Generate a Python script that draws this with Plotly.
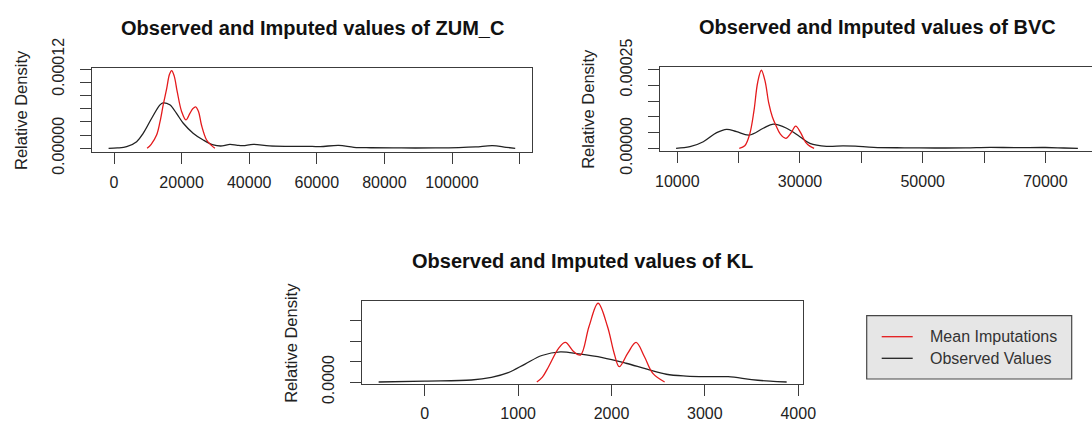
import plotly.graph_objects as go

W, H = 1092, 423
FONT = "Liberation Sans, Arial, Helvetica, sans-serif"
RED = "rgb(228,26,28)"
BLACK = "rgb(34,34,34)"
AXIS = "rgb(60,60,60)"

# ---- ZUM_C ----
zum_obs_x = [-1600, 1000, 3750, 6700, 8670, 11150, 13600, 14500, 16500, 18500, 20500,
             23400, 26400, 29400, 32000, 34300, 36500, 38200, 41200, 46000, 52000,
             57000, 61000, 66500, 71000, 76000, 85000, 95000, 102000, 107000, 112000,
             116000, 118700]
zum_obs_y = [0, 0.05e-5, 0.24e-5, 1.0e-5, 2.3e-5, 4.56e-5, 6.6e-5, 6.9e-5, 6.6e-5, 5.3e-5,
             3.8e-5, 2.3e-5, 1.26e-5, 0.5e-5, 0.35e-5, 0.6e-5, 0.45e-5, 0.4e-5, 0.6e-5,
             0.35e-5, 0.3e-5, 0.3e-5, 0.25e-5, 0.45e-5, 0.15e-5, 0.08e-5, 0.05e-5, 0.05e-5,
             0.1e-5, 0.2e-5, 0.4e-5, 0.15e-5, 0]
zum_imp_x = [9800, 11000, 12600, 13600, 14600, 15600, 16400, 17050, 17800, 18700, 20000,
             21270, 22450, 23300, 24150, 25000, 25900, 27400, 28900, 29850]
zum_imp_y = [0, 0.6e-5, 2.0e-5, 4.0e-5, 6.7e-5, 9.1e-5, 11.2e-5, 11.8e-5, 11.0e-5, 8.6e-5,
             5.6e-5, 4.3e-5, 5.3e-5, 6.0e-5, 6.3e-5, 5.6e-5, 3.5e-5, 1.26e-5, 0.4e-5, 0]

# ---- BVC ----
bvc_obs_x = [9800, 12070, 14240, 16420, 18050, 19670, 21730, 24010, 25640, 27820, 29980,
             31610, 34330, 37000, 39000, 42000, 47000, 52000, 57000, 61000, 65000, 70000,
             73000, 75300]
bvc_obs_y = [0, 0.5e-5, 2.1e-5, 5.0e-5, 6.06e-5, 5.3e-5, 4.24e-5, 6.4e-5, 7.7e-5, 6.4e-5,
             3.7e-5, 1.6e-5, 0.64e-5, 0.8e-5, 0.7e-5, 0.3e-5, 0.15e-5, 0.1e-5, 0.15e-5,
             0.3e-5, 0.2e-5, 0.25e-5, 0.1e-5, 0]
bvc_imp_x = [20100, 21000, 21800, 22500, 23100, 23700, 24300, 24900, 25500, 26100, 26800,
             27700, 28500, 29300, 30100, 30900, 31600, 32300]
bvc_imp_y = [0, 0.8e-5, 4.5e-5, 12.0e-5, 21.0e-5, 24.9e-5, 21.5e-5, 14.5e-5, 10.0e-5,
             7.2e-5, 4.5e-5, 3.2e-5, 4.8e-5, 7.1e-5, 5.0e-5, 2.0e-5, 0.7e-5, 0]

# ---- KL ----
kl_obs_x = [-494, 0, 500, 714, 894, 1074, 1254, 1452, 1651, 1903, 2155, 2371, 2587, 2800,
            3000, 3250, 3500, 3700, 3876]
kl_obs_y = [0, 0.24e-4, 0.49e-4, 1.15e-4, 2.3e-4, 4.4e-4, 6.5e-4, 7.4e-4, 6.9e-4, 6.0e-4,
            4.6e-4, 3.2e-4, 1.9e-4, 1.45e-4, 1.3e-4, 1.3e-4, 0.6e-4, 0.2e-4, 0]
kl_imp_x = [1200, 1260, 1326, 1435, 1506, 1597, 1668, 1759, 1856, 1957, 2029, 2083, 2173,
            2263, 2353, 2443, 2569]
kl_imp_y = [0, 1.2e-4, 3.75e-4, 8.3e-4, 9.7e-4, 7.4e-4, 6.6e-4, 13.6e-4, 19.3e-4, 13.6e-4,
            7.0e-4, 3.75e-4, 7.0e-4, 9.7e-4, 6.2e-4, 2.1e-4, 0]

# axis ticks
zum_xticks = [0, 20000, 40000, 60000, 80000, 100000, 120000]
zum_xtext = ["0", "20000", "40000", "60000", "80000", "100000", ""]
zum_yticks = [0, 2e-5, 4e-5, 6e-5, 8e-5, 10e-5, 12e-5]
zum_ytext = ["0.00000", "", "", "", "", "", "0.00012"]

bvc_xticks = [10000, 20000, 30000, 40000, 50000, 60000, 70000]
bvc_xtext = ["10000", "", "30000", "", "50000", "", "70000"]
bvc_yticks = [0, 5e-5, 10e-5, 15e-5, 20e-5, 25e-5]
bvc_ytext = ["0.00000", "", "", "", "", "0.00025"]

kl_xticks = [0, 1000, 2000, 3000, 4000]
kl_xtext = ["0", "1000", "2000", "3000", "4000"]
kl_yticks = [0, 0.0005, 0.0010, 0.0015]
kl_ytext = ["0.0000", "", "", ""]

titles = ["Observed and Imputed values of ZUM_C",
          "Observed and Imputed values of BVC",
          "Observed and Imputed values of KL"]
legend_labels = ["Mean Imputations", "Observed Values"]

# plot-box geometry in pixels: left, right, top, bottom
boxes = [
    (92.3, 531.7, 67.7, 151.7),
    (660.0, 1092.0, 66.7, 151.0),
    (362.3, 803.0, 300.7, 384.3),
]
xranges = [[-6420, 123580], [7180, 77600], [-669, 4051]]
yranges = [[-5.2e-6, 1.224e-4], [-8.6e-6, 2.604e-4], [-5.6e-5, 1.993e-3]]

panels = [
    (zum_obs_x, zum_obs_y, zum_imp_x, zum_imp_y, zum_xticks, zum_xtext, zum_yticks, zum_ytext),
    (bvc_obs_x, bvc_obs_y, bvc_imp_x, bvc_imp_y, bvc_xticks, bvc_xtext, bvc_yticks, bvc_ytext),
    (kl_obs_x, kl_obs_y, kl_imp_x, kl_imp_y, kl_xticks, kl_xtext, kl_yticks, kl_ytext),
]


def px(p):
    return p / W


def py(p):
    return 1 - p / H


fig = go.Figure()
annotations = []
shapes = []

for i, (ox, oy, ix, iy, xt, xtt, yt, ytt) in enumerate(panels):
    n = "" if i == 0 else str(i + 1)
    left, right, top, bottom = boxes[i]
    fig.add_trace(go.Scatter(x=ox, y=oy, mode="lines", line=dict(color=BLACK, width=1.3, shape="spline", smoothing=1.0),
                             xaxis="x" + n, yaxis="y" + n, showlegend=False, hoverinfo="skip"))
    fig.add_trace(go.Scatter(x=ix, y=iy, mode="lines", line=dict(color=RED, width=1.3, shape="spline", smoothing=1.0),
                             xaxis="x" + n, yaxis="y" + n, showlegend=False, hoverinfo="skip"))
    fig.layout["xaxis" + n] = dict(
        domain=[px(left), px(right)], range=xranges[i], anchor="y" + n, automargin=False,
        showline=True, linecolor=AXIS, linewidth=1.2, mirror=True,
        ticks="outside", ticklen=11, tickwidth=1.2, tickcolor=AXIS,
        tickvals=xt, ticktext=xtt, ticklabelstandoff=(5 if i < 2 else 3),
        showgrid=False, zeroline=False,
        tickfont=dict(family=FONT, size=16, color="#222"),
    )
    fig.layout["yaxis" + n] = dict(
        domain=[py(bottom), py(top)], range=yranges[i], anchor="x" + n, automargin=False,
        showline=True, linecolor=AXIS, linewidth=1.2, mirror=(i != 1),
        ticks="outside", ticklen=11, tickwidth=1.2, tickcolor=AXIS,
        tickvals=yt, ticktext=ytt, tickangle=-90, ticklabelstandoff=10,
        showgrid=False, zeroline=False,
        tickfont=dict(family=FONT, size=16, color="#222"),
    )
    # title above the plot box
    cx = (left + (right if i != 1 else 1094.0)) / 2
    annotations.append(dict(text="<b>" + titles[i] + "</b>", x=px(cx), y=py(top - 40),
                            xref="paper", yref="paper", xanchor="center", yanchor="middle",
                            showarrow=False, font=dict(family=FONT, size=20, color="#111")))
    # y-axis title
    annotations.append(dict(text="Relative Density", x=px(left - 72), y=py((top + bottom) / 2),
                            xref="paper", yref="paper", xanchor="center", yanchor="middle",
                            textangle=-90, showarrow=False,
                            font=dict(family=FONT, size=16.5, color="#222")))

# legend box
lg_l, lg_r, lg_t, lg_b = 866.7, 1071.7, 315.7, 379.0
shapes.append(dict(type="rect", xref="paper", yref="paper",
                   x0=px(lg_l), x1=px(lg_r), y0=py(lg_b), y1=py(lg_t),
                   fillcolor="rgb(230,230,230)", line=dict(color="rgb(70,70,70)", width=1.2)))
for k, (col, yy) in enumerate([(RED, 336.7), (BLACK, 358.3)]):
    shapes.append(dict(type="line", xref="paper", yref="paper",
                       x0=px(881.7), x1=px(912.7), y0=py(yy), y1=py(yy),
                       line=dict(color=col, width=1.3)))
    annotations.append(dict(text=legend_labels[k], x=px(927.5), y=py(yy),
                            xref="paper", yref="paper", xanchor="left", yanchor="middle",
                            showarrow=False, font=dict(family=FONT, size=16, color="#333")))

fig.update_layout(
    width=W, height=H,
    margin=dict(l=0, r=0, t=0, b=0, autoexpand=False),
    paper_bgcolor="white", plot_bgcolor="white",
    annotations=annotations, shapes=shapes,
    showlegend=False,
)

fig.write_html("out.html")
